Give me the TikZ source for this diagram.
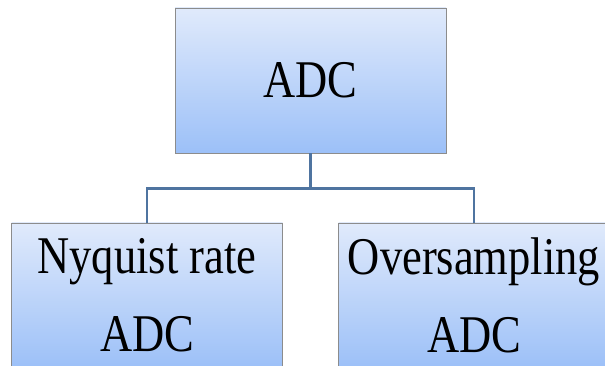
\documentclass[tikz,border=0pt]{standalone}
\usepackage{fontspec}
\setmainfont{Liberation Serif}
\usepackage{graphicx}
\usetikzlibrary{positioning}
\definecolor{boxtop}{HTML}{E0EAFB}
\definecolor{boxbottom}{HTML}{9CC0F8}
\definecolor{boxline}{HTML}{8C8C8C}
\definecolor{busline}{HTML}{4F74A0}
\newcommand{\narrow}[1]{\scalebox{0.84}[1]{#1}}

\begin{document}
\begin{tikzpicture}[x=1pt,y=1pt]
            \clip (0,0) rectangle (605,366);
            \tikzset{adcbox/.style={draw=boxline, line width=0.8pt, rectangle, top color=boxtop, bottom color=boxbottom, minimum width=271pt, minimum height=145pt, align=center, font=\fontsize{53}{78}\selectfont}}
            \node[adcbox] (adc) at (310.5,285.5) {\narrow{ADC}};
            \node[adcbox, yshift=4pt] (nyquist) at (147,66.5) {\narrow{Nyquist rate}\\\narrow{ADC}};
            \node[adcbox, yshift=4pt] (oversampling) at (474,66.5) {\narrow{Oversampling}\\\narrow{ADC}};

            \draw[busline, line width=2.4pt] (adc.south) -- ++(0,-35) -| (nyquist.north);
            \draw[busline, line width=2.4pt] (adc.south) -- ++(0,-35) -| (oversampling.north);
        \end{tikzpicture}
\end{document}
